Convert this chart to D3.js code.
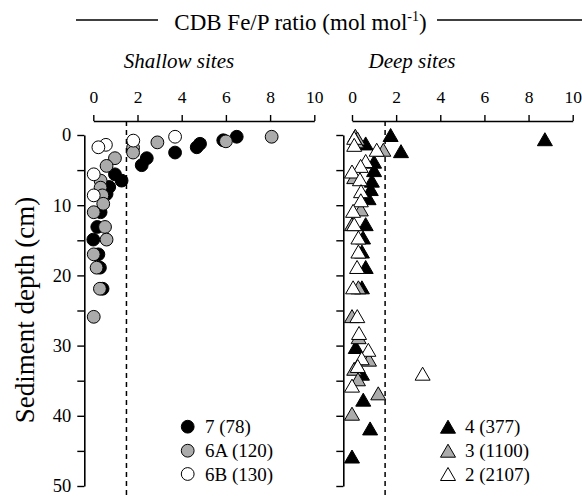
<!DOCTYPE html>
<html>
<head>
<meta charset="utf-8">
<script src="https://cdn.jsdelivr.net/npm/d3@7"></script>
<style>
  html, body { margin: 0; padding: 0; background: #fff; }
  svg { display: block; }
  text { font-family: "Liberation Serif", "Times New Roman", serif; fill: #000; }
</style>
</head>
<body>
<svg id="chart" width="582" height="496"></svg>
<script>
// Axis ticks
const xTickValues = [0, 2, 4, 6, 8, 10];
const yTickValues = [0, 5, 10, 15, 20, 25, 30, 35, 40, 45, 50];
const yLabelValues = [0, 10, 20, 30, 40, 50];
const thresholdRatio = 1.5;

// Shallow sites: site 7 (78 m)
const site7Depth = [0.25, 0.75, 1.25, 1.75, 2.5, 3.3, 4.3, 5.6, 6.5, 7.4, 8.4, 11, 13.1, 14.9, 17, 18.9, 21.9];
const site7Ratio = [6.49, 5.88, 4.83, 4.68, 3.7, 2.42, 2.19, 0.98, 1.28, 0.72, 0.6, 0.33, 0.18, 0.0, 0.23, 0.3, 0.42];
// Shallow sites: site 6A (120 m)
const site6ADepth = [0.25, 0.9, 1.05, 1.8, 2.5, 3.3, 4.4, 6.5, 7.5, 8.6, 9.8, 11, 13.1, 14.9, 17, 18.9, 21.9, 25.9];
const site6ARatio = [8.07, 6.0, 2.9, 1.8, 1.8, 0.98, 0.6, 0.33, 0.33, 0.41, 0.45, 0.02, 0.53, 0.6, 0.02, 0.15, 0.3, 0.02];
// Shallow sites: site 6B (130 m)
const site6BDepth = [0.25, 0.8, 1.4, 1.75, 5.6, 8.6];
const site6BRatio = [3.7, 1.81, 0.57, 0.23, 0.02, 0.02];

// Deep sites: site 4 (377 m)
const site4Depth = [0.0, 0.6, 1.2, 2.3, 3.8, 5.0, 6.5, 7.7, 9.0, 12.7, 14.6, 16.6, 18.8, 21.7, 30.2, 34.0, 37.7, 41.8, 45.8];
const site4Ratio = [1.75, 8.74, 0.62, 2.22, 1.0, 1.0, 0.9, 0.85, 0.75, 0.62, 0.5, 0.45, 0.62, 0.45, 0.17, 0.45, 0.51, 0.82, 0.0];
// Deep sites: site 3 (1100 m)
const site3Depth = [0.1, 0.5, 0.9, 2.1, 6.0, 10.6, 12.7, 21.7, 25.8, 28.8, 32.0, 33.3, 34.8, 36.8, 39.7];
const site3Ratio = [0.15, 0.25, 0.2, 1.42, 0.1, 0.4, 0.0, 0.29, 0.0, 0.3, 0.77, 0.1, 0.27, 1.19, 0.0];
// Deep sites: site 2 (2107 m)
const site2Depth = [0.4, 1.4, 2.1, 3.7, 4.4, 5.2, 6.3, 8.0, 9.3, 10.8, 12.7, 14.6, 16.6, 18.8, 21.7, 25.8, 28.2, 30.6, 31.8, 32.9, 34.0, 35.7];
const site2Ratio = [0.1, 0.1, 1.12, 0.62, 0.39, 0.0, 0.36, 0.41, 0.4, 0.05, 0.1, 0.29, 0.29, 0.23, 0.05, 0.24, 0.32, 0.74, 0.44, 0.26, 3.2, 0.0];

const shallowSeries = [
  { label: "7 (78)", fill: "#000000", depth: site7Depth, ratio: site7Ratio },
  { label: "6A (120)", fill: "#ababab", depth: site6ADepth, ratio: site6ARatio },
  { label: "6B (130)", fill: "#ffffff", depth: site6BDepth, ratio: site6BRatio }
];
const deepSeries = [
  { label: "4 (377)", fill: "#000000", depth: site4Depth, ratio: site4Ratio },
  { label: "3 (1100)", fill: "#ababab", depth: site3Depth, ratio: site3Ratio },
  { label: "2 (2107)", fill: "#ffffff", depth: site2Depth, ratio: site2Ratio }
];

const svg = d3.select("#chart");

const y = d3.scaleLinear().domain([0, 50]).range([135, 486]);
const xShallow = d3.scaleLinear().domain([0, 10]).range([93.3, 314.3]);
const xDeep = d3.scaleLinear().domain([0, 10]).range([352, 572.7]);

const axisTopY = 121;
const serif = '"Liberation Serif", "Times New Roman", serif';

// Upward-pointing triangle centred on its bounding box
const triangleW = 15, triangleH = 13;
const boxTriangle = {
  draw(ctx) {
    ctx.moveTo(0, -triangleH / 2);
    ctx.lineTo(triangleW / 2, triangleH / 2);
    ctx.lineTo(-triangleW / 2, triangleH / 2);
    ctx.closePath();
  }
};
const triPath = d3.symbol().type(boxTriangle)();

function drawTopAxis(x) {
  const g = svg.append("g").attr("transform", `translate(0,${axisTopY})`)
    .call(d3.axisTop(x).tickValues(xTickValues).tickSize(6).tickSizeOuter(0).tickPadding(12));
  g.select(".domain").attr("stroke", "#000").attr("stroke-width", 1.6);
  g.selectAll(".tick line").attr("stroke", "#000").attr("stroke-width", 1.4);
  g.selectAll(".tick text").style("font-family", serif).style("font-size", "17.5px").attr("fill", "#000");
}

function drawLeftAxis(xPos, withLabels) {
  const axis = d3.axisLeft(y).tickValues(yTickValues).tickSize(7).tickSizeOuter(0).tickPadding(6)
    .tickFormat(d => (withLabels && yLabelValues.includes(d)) ? d : "");
  const g = svg.append("g").attr("transform", `translate(${xPos},0)`).call(axis);
  g.select(".domain").attr("stroke", "#000").attr("stroke-width", 1.6);
  g.selectAll(".tick line").attr("stroke", "#000").attr("stroke-width", 1.4);
  g.selectAll(".tick text").style("font-family", serif).style("font-size", "18.5px").attr("fill", "#000");
}

function drawThreshold(x) {
  svg.append("line")
    .attr("x1", x(thresholdRatio)).attr("x2", x(thresholdRatio))
    .attr("y1", axisTopY).attr("y2", 496)
    .attr("stroke", "#000").attr("stroke-width", 1.5)
    .attr("stroke-dasharray", "5,4");
}

// Title with flanking rules
svg.append("line").attr("x1", 76).attr("x2", 158).attr("y1", 20).attr("y2", 20)
  .attr("stroke", "#000").attr("stroke-width", 1.3);
svg.append("line").attr("x1", 437).attr("x2", 582).attr("y1", 20).attr("y2", 20)
  .attr("stroke", "#000").attr("stroke-width", 1.3);
const title = svg.append("text").attr("x", 300.5).attr("y", 30).attr("text-anchor", "middle")
  .style("font-size", "23px");
title.append("tspan").text("CDB Fe/P ratio (mol mol");
title.append("tspan").attr("dy", -9).style("font-size", "14px").text("-1");
title.append("tspan").attr("dy", 9).text(")");

// Panel subtitles
svg.append("text").attr("x", 179).attr("y", 68).attr("text-anchor", "middle")
  .style("font-size", "21px").style("font-style", "italic").text("Shallow sites");
svg.append("text").attr("x", 412).attr("y", 68).attr("text-anchor", "middle")
  .style("font-size", "21px").style("font-style", "italic").text("Deep sites");

// Axes
drawTopAxis(xShallow);
drawTopAxis(xDeep);
drawLeftAxis(84.3, true);
drawLeftAxis(343.3, false);

// Y axis title
svg.append("text")
  .attr("transform", `translate(34,310) rotate(-90)`)
  .attr("text-anchor", "middle")
  .style("font-size", "27px")
  .text("Sediment depth (cm)");

// Threshold lines
drawThreshold(xShallow);
drawThreshold(xDeep);

// Shallow-site circles
shallowSeries.forEach(s => {
  svg.append("g").selectAll("circle")
    .data(s.depth.map((d, i) => ({ depth: d, ratio: s.ratio[i] })))
    .join("circle")
    .attr("cx", d => xShallow(d.ratio))
    .attr("cy", d => y(d.depth))
    .attr("r", 6.4)
    .attr("fill", s.fill)
    .attr("stroke", "#000")
    .attr("stroke-width", 1);
});

// Deep-site triangles
deepSeries.forEach(s => {
  svg.append("g").selectAll("path")
    .data(s.depth.map((d, i) => ({ depth: d, ratio: s.ratio[i] })))
    .join("path")
    .attr("d", triPath)
    .attr("transform", d => `translate(${xDeep(d.ratio)},${y(d.depth)})`)
    .attr("fill", s.fill)
    .attr("stroke", "#000")
    .attr("stroke-width", 1);
});

// Legends
const legendRows = [426.7, 450.7, 474];
const legendShallow = svg.append("g");
shallowSeries.forEach((s, i) => {
  legendShallow.append("circle").attr("cx", 187.7).attr("cy", legendRows[i]).attr("r", 6.4)
    .attr("fill", s.fill).attr("stroke", "#000").attr("stroke-width", 1);
  legendShallow.append("text").attr("x", 205).attr("y", legendRows[i] + 6.5)
    .style("font-size", "19px").text(s.label);
});
const legendDeep = svg.append("g");
deepSeries.forEach((s, i) => {
  legendDeep.append("path").attr("d", triPath)
    .attr("transform", `translate(448,${legendRows[i]})`)
    .attr("fill", s.fill).attr("stroke", "#000").attr("stroke-width", 1);
  legendDeep.append("text").attr("x", 465).attr("y", legendRows[i] + 6.5)
    .style("font-size", "19px").text(s.label);
});
</script>
</body>
</html>
